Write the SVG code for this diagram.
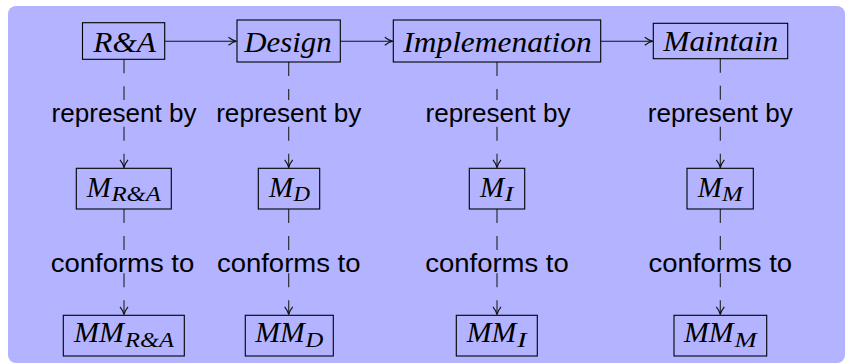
<svg xmlns="http://www.w3.org/2000/svg" width="845" height="364" viewBox="0 0 845 364">
<style>
.box{fill:none;stroke:#000;stroke-width:1.1}
.m{font-family:"Liberation Serif","Times New Roman",serif;font-style:italic;font-size:29px;fill:#000}
.s{font-family:"Liberation Serif","Times New Roman",serif;font-style:italic;font-size:20px;fill:#000}
.lbl{font-family:"Liberation Sans",Arial,sans-serif;font-size:26px;fill:#000;text-anchor:middle}
.flow{fill:none;stroke:#111;stroke-width:1.1}
.dash{fill:none;stroke:#222;stroke-width:1.1;stroke-dasharray:14 13}
.ah{fill:none;stroke:#111;stroke-width:1.1}
</style>
<defs>
<marker id="to" markerUnits="userSpaceOnUse" markerWidth="12" markerHeight="12" refX="0" refY="0" orient="auto" overflow="visible">
<path class="ah" d="M -8 -4 C -5 -1.6 -2.5 -0.3 0 0 C -2.5 0.3 -5 1.6 -8 4"/>
</marker>
</defs>
<rect x="8" y="6" width="837" height="357" rx="8" fill="#B3B3FF"/>

<g id="connectors">
<line class="flow" x1="164.7" y1="41.3" x2="236.5" y2="41.3" marker-end="url(#to)"/>
<line class="flow" x1="340.3" y1="41.3" x2="392.8" y2="41.3" marker-end="url(#to)"/>
<line class="flow" x1="600.7" y1="41.3" x2="652.8" y2="41.3" marker-end="url(#to)"/>

<line class="dash" x1="124" y1="59.3" x2="124" y2="100"/>
<line class="dash" x1="124" y1="126.7" x2="124" y2="167.8" marker-end="url(#to)"/>
<line class="dash" x1="124" y1="209" x2="124" y2="250"/>
<line class="dash" x1="124" y1="273.3" x2="124" y2="314.8" marker-end="url(#to)"/>

<line class="dash" x1="288.7" y1="62" x2="288.7" y2="100"/>
<line class="dash" x1="288.7" y1="126.7" x2="288.7" y2="167.8" marker-end="url(#to)"/>
<line class="dash" x1="288.7" y1="209" x2="288.7" y2="250"/>
<line class="dash" x1="288.7" y1="273.3" x2="288.7" y2="314.8" marker-end="url(#to)"/>

<line class="dash" x1="497" y1="62" x2="497" y2="100"/>
<line class="dash" x1="497" y1="126.7" x2="497" y2="167.8" marker-end="url(#to)"/>
<line class="dash" x1="497" y1="209" x2="497" y2="250"/>
<line class="dash" x1="497" y1="273.3" x2="497" y2="314.8" marker-end="url(#to)"/>

<line class="dash" x1="720.3" y1="58.7" x2="720.3" y2="100"/>
<line class="dash" x1="720.3" y1="126.7" x2="720.3" y2="167.8" marker-end="url(#to)"/>
<line class="dash" x1="720.3" y1="209" x2="720.3" y2="250"/>
<line class="dash" x1="720.3" y1="273.3" x2="720.3" y2="314.8" marker-end="url(#to)"/>

<text class="lbl" x="124" y="121.7" textLength="145" lengthAdjust="spacingAndGlyphs">represent by</text>
<text class="lbl" x="288.7" y="121.7" textLength="145" lengthAdjust="spacingAndGlyphs">represent by</text>
<text class="lbl" x="498" y="121.7" textLength="145" lengthAdjust="spacingAndGlyphs">represent by</text>
<text class="lbl" x="720.3" y="121.7" textLength="145" lengthAdjust="spacingAndGlyphs">represent by</text>
<text class="lbl" x="122.5" y="271.7" textLength="143.6" lengthAdjust="spacingAndGlyphs">conforms to</text>
<text class="lbl" x="288.7" y="271.7" textLength="143.6" lengthAdjust="spacingAndGlyphs">conforms to</text>
<text class="lbl" x="497" y="271.7" textLength="143.6" lengthAdjust="spacingAndGlyphs">conforms to</text>
<text class="lbl" x="720.3" y="271.7" textLength="143.6" lengthAdjust="spacingAndGlyphs">conforms to</text>
</g>

<g id="ra">
<rect class="box" x="82.5" y="22.7" width="82.2" height="36.6"/>
<text class="m" x="93.3" y="51.7" textLength="62.7" lengthAdjust="spacingAndGlyphs">R&amp;A</text>
</g>
<g id="design">
<rect class="box" x="237" y="20" width="103.3" height="42"/>
<text class="m" x="244.3" y="51.7" textLength="87.4" lengthAdjust="spacingAndGlyphs">Design</text>
</g>
<g id="impl">
<rect class="box" x="393.3" y="20" width="207.4" height="42"/>
<text class="m" x="403.3" y="51.7" textLength="188.4" lengthAdjust="spacingAndGlyphs">Implemenation</text>
</g>
<g id="maintain">
<rect class="box" x="653.3" y="23.3" width="134.4" height="35.4"/>
<text class="m" x="663.3" y="51.3" textLength="115" lengthAdjust="spacingAndGlyphs">Maintain</text>
</g>

<g id="m-ra">
<rect class="box" x="76.3" y="168.3" width="95" height="40.7"/>
<text class="m" x="86.7" y="196.7">M</text>
<text class="s" x="111.5" y="201" textLength="49.5" lengthAdjust="spacingAndGlyphs">R&amp;A</text>
</g>
<g id="m-d">
<rect class="box" x="258.3" y="168.3" width="61.4" height="40.7"/>
<text class="m" x="269" y="196.7">M</text>
<text class="s" x="293.5" y="201" textLength="16.5" lengthAdjust="spacingAndGlyphs">D</text>
</g>
<g id="m-i">
<rect class="box" x="469.3" y="168.3" width="55.4" height="40.7"/>
<text class="m" x="480" y="196.7">M</text>
<text class="s" x="504.5" y="201" textLength="9" lengthAdjust="spacingAndGlyphs">I</text>
</g>
<g id="m-m">
<rect class="box" x="687" y="168.3" width="66.3" height="40.7"/>
<text class="m" x="697.7" y="196.7">M</text>
<text class="s" x="722" y="201" textLength="20.7" lengthAdjust="spacingAndGlyphs">M</text>
</g>

<g id="mm-ra">
<rect class="box" x="63.3" y="315.3" width="121" height="40.7"/>
<text class="m" x="74" y="342.3" textLength="50" lengthAdjust="spacingAndGlyphs">MM</text>
<text class="s" x="125" y="347" textLength="49" lengthAdjust="spacingAndGlyphs">R&amp;A</text>
</g>
<g id="mm-d">
<rect class="box" x="245.3" y="315.3" width="88" height="40.7"/>
<text class="m" x="255.3" y="342.3" textLength="49.5" lengthAdjust="spacingAndGlyphs">MM</text>
<text class="s" x="305.5" y="347" textLength="17.8" lengthAdjust="spacingAndGlyphs">D</text>
</g>
<g id="mm-i">
<rect class="box" x="456.3" y="315.3" width="81" height="40.7"/>
<text class="m" x="466.7" y="342.3" textLength="49.5" lengthAdjust="spacingAndGlyphs">MM</text>
<text class="s" x="517" y="347" textLength="9.7" lengthAdjust="spacingAndGlyphs">I</text>
</g>
<g id="mm-m">
<rect class="box" x="674" y="315.3" width="92.7" height="40.7"/>
<text class="m" x="684" y="342.3" textLength="49.5" lengthAdjust="spacingAndGlyphs">MM</text>
<text class="s" x="734.5" y="347" textLength="22.2" lengthAdjust="spacingAndGlyphs">M</text>
</g>
</svg>
